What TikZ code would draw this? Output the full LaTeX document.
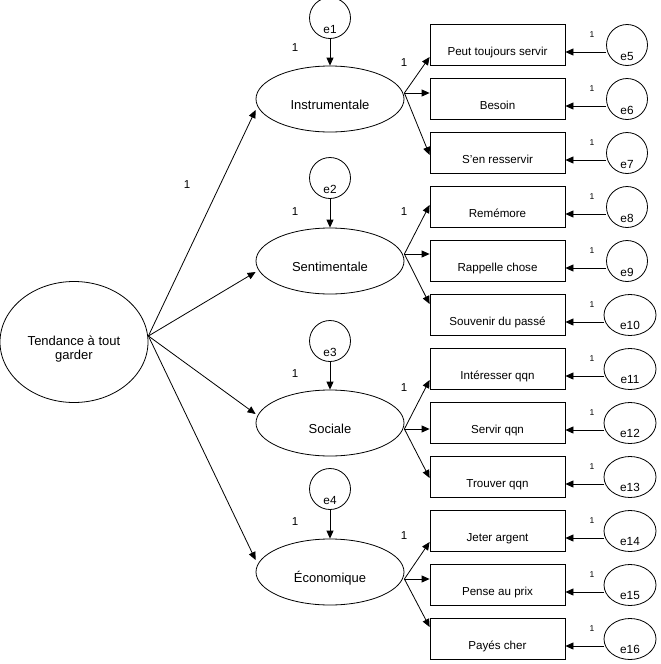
\documentclass[tikz,border=0pt]{standalone}
\usepackage{fontspec}
\setmainfont{Liberation Sans}
\usetikzlibrary{shapes.geometric,arrows.meta}
\begin{document}
\begin{tikzpicture}[x=1pt,y=-1pt,
		lat/.style={ellipse, draw, line width=0.8pt, inner sep=0pt, minimum width=148pt, minimum height=66pt, font=\fontsize{13}{14}\selectfont, text height=20pt, text depth=0pt},
		obs/.style={rectangle, draw, line width=0.8pt, inner sep=0pt, minimum width=135pt, minimum height=41pt, font=\fontsize{11.6}{13}\selectfont, text height=20pt, text depth=0pt},
		err/.style={circle, draw, line width=0.8pt, inner sep=0pt, minimum size=41pt, font=\fontsize{11.8}{13}\selectfont, text height=30pt, text depth=0pt},
		errw/.style={ellipse, draw, line width=0.8pt, inner sep=0pt, minimum width=52pt, minimum height=41pt, font=\fontsize{11.8}{13}\selectfont, text height=28pt, text depth=0pt},
		arr/.style={line width=0.8pt, -{Triangle[length=8pt,width=7pt]}},
		one/.style={font=\fontsize{11.5}{12}\selectfont},
		onesm/.style={font=\fontsize{8.5}{9}\selectfont}]
	\useasboundingbox (0,0) rectangle (661,664);
	\node[ellipse, draw, line width=0.8pt, inner sep=0pt, minimum width=148pt, minimum height=121pt, font=\fontsize{13}{14}\selectfont, text height=22pt, text depth=0pt] (t) at (74,342) {\begin{tabular}{@{}c@{}}Tendance à tout\\garder\end{tabular}};
	\coordinate (o) at ([yshift=6pt]t.east);
	\node[lat] (l1) at (330,99) {Instrumentale};
	\node[lat] (l2) at (330,261) {Sentimentale};
	\node[lat] (l3) at (330,423) {Sociale};
	\node[lat] (l4) at (330,572) {Économique};
	\node[err] (e1) at (330,18) {e1};
	\node[err] (e2) at (330,178) {e2};
	\node[err] (e3) at (330,341) {e3};
	\node[err] (e4) at (330,489) {e4};
	\node[obs] (v1) at (497.5,45) {Peut toujours servir};
	\node[obs] (v2) at (497.5,99) {Besoin};
	\node[obs] (v3) at (497.5,153) {S'en resservir};
	\node[obs] (v4) at (497.5,207) {Remémore};
	\node[obs] (v5) at (497.5,261) {Rappelle chose};
	\node[obs] (v6) at (497.5,315) {Souvenir du passé};
	\node[obs] (v7) at (497.5,369) {Intéresser qqn};
	\node[obs] (v8) at (497.5,423) {Servir qqn};
	\node[obs] (v9) at (497.5,477) {Trouver qqn};
	\node[obs] (v10) at (497.5,531) {Jeter argent};
	\node[obs] (v11) at (497.5,585) {Pense au prix};
	\node[obs] (v12) at (497.5,639) {Payés cher};
	\node[err] (e5) at (627,45) {e5};
	\node[err] (e6) at (627,99) {e6};
	\node[err] (e7) at (627,153) {e7};
	\node[err] (e8) at (627,207) {e8};
	\node[err] (e9) at (627,261) {e9};
	\node[errw] (e10) at (630,315) {e10};
	\node[errw] (e11) at (630,369) {e11};
	\node[errw] (e12) at (630,423) {e12};
	\node[errw] (e13) at (630,477) {e13};
	\node[errw] (e14) at (630,531) {e14};
	\node[errw] (e15) at (630,585) {e15};
	\node[errw] (e16) at (630,639) {e16};
	\draw[arr] (o)--([yshift=-11pt]l1.west);
	\draw[arr] (o)--([yshift=-11pt]l2.west);
	\draw[arr] (o)--([yshift=9pt]l3.west);
	\draw[arr] (o)--([yshift=12pt]l4.west);
	\draw[arr] (e1)--(l1);
	\draw[arr] (e2)--(l2);
	\draw[arr] (e3)--(l3);
	\draw[arr] (e4)--(l4);
	\draw[arr] ([yshift=6pt]l1.east)--([yshift=-12pt]v1.west);
	\draw[arr] ([yshift=6pt]l1.east)--([yshift=6pt]v2.west);
	\draw[arr] ([yshift=6pt]l1.east)--([yshift=-2pt]v3.west);
	\draw[arr] ([yshift=7pt]l2.east)--([yshift=2pt]v4.west);
	\draw[arr] ([yshift=7pt]l2.east)--([yshift=7pt]v5.west);
	\draw[arr] ([yshift=7pt]l2.east)--([yshift=11pt]v6.west);
	\draw[arr] ([yshift=-6pt]l3.east)--([yshift=-11pt]v7.west);
	\draw[arr] ([yshift=-6pt]l3.east)--([yshift=-6pt]v8.west);
	\draw[arr] ([yshift=-6pt]l3.east)--([yshift=-1pt]v9.west);
	\draw[arr] ([yshift=-7pt]l4.east)--([yshift=-11pt]v10.west);
	\draw[arr] ([yshift=-7pt]l4.east)--([yshift=6pt]v11.west);
	\draw[arr] ([yshift=-7pt]l4.east)--([yshift=12pt]v12.west);
	\draw[arr] ([yshift=-7pt]e5.west)--([yshift=-7pt]v1.east);
	\draw[arr] ([yshift=-7pt]e6.west)--([yshift=-7pt]v2.east);
	\draw[arr] ([yshift=-7pt]e7.west)--([yshift=-7pt]v3.east);
	\draw[arr] ([yshift=-7pt]e8.west)--([yshift=-7pt]v4.east);
	\draw[arr] ([yshift=-7pt]e9.west)--([yshift=-7pt]v5.east);
	\draw[arr] ([yshift=-7pt]e10.west)--([yshift=-7pt]v6.east);
	\draw[arr] ([yshift=-7pt]e11.west)--([yshift=-7pt]v7.east);
	\draw[arr] ([yshift=-7pt]e12.west)--([yshift=-7pt]v8.east);
	\draw[arr] ([yshift=-7pt]e13.west)--([yshift=-7pt]v9.east);
	\draw[arr] ([yshift=-7pt]e14.west)--([yshift=-7pt]v10.east);
	\draw[arr] ([yshift=-7pt]e15.west)--([yshift=-7pt]v11.east);
	\draw[arr] ([yshift=-7pt]e16.west)--([yshift=-7pt]v12.east);
	\node[one] (w0) at (187,185) {1};
	\node[one] (w1) at (295,48) {1};
	\node[one] (w2) at (295,212) {1};
	\node[one] (w3) at (295,374) {1};
	\node[one] (w4) at (295,522) {1};
	\node[one] (u1) at (404,63) {1};
	\node[one] (u2) at (404,212) {1};
	\node[one] (u3) at (404,388) {1};
	\node[one] (u4) at (404,536) {1};
	\node[onesm] (s5) at (592,35) {1};
	\node[onesm] (s6) at (592,89) {1};
	\node[onesm] (s7) at (592,143) {1};
	\node[onesm] (s8) at (592,197) {1};
	\node[onesm] (s9) at (592,251) {1};
	\node[onesm] (s10) at (592,305) {1};
	\node[onesm] (s11) at (592,359) {1};
	\node[onesm] (s12) at (592,413) {1};
	\node[onesm] (s13) at (592,467) {1};
	\node[onesm] (s14) at (592,521) {1};
	\node[onesm] (s15) at (592,575) {1};
	\node[onesm] (s16) at (592,629) {1};
\end{tikzpicture}
\end{document}
